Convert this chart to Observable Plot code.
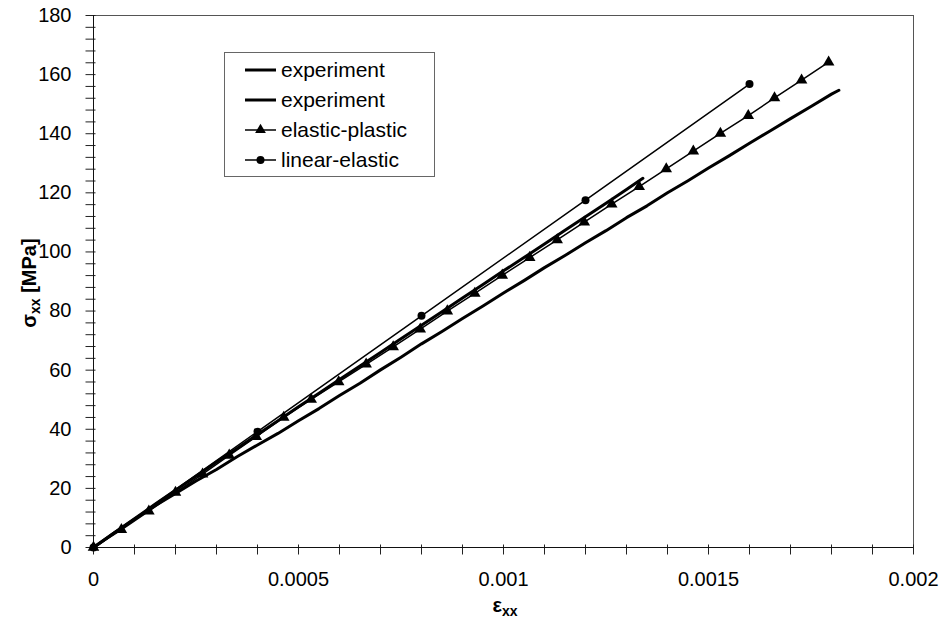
<!DOCTYPE html>
<html>
<head>
<meta charset="utf-8">
<script src="https://cdn.jsdelivr.net/npm/d3@7"></script>
<script src="https://cdn.jsdelivr.net/npm/@observablehq/plot@0.6"></script>
<style>
  html, body { margin: 0; padding: 0; background: #fff; }
  #chart { width: 946px; height: 627px; }
</style>
</head>
<body>
<div id="chart"></div>
<script>
// Measured stress–strain curves (strain εxx, stress σxx in MPa)
const exp1Strain = [0, 0.00005, 0.0001, 0.00015, 0.0002, 0.00025, 0.0003, 0.00035, 0.0004, 0.00045,
  0.0005, 0.00055, 0.0006, 0.00065, 0.0007, 0.00075, 0.0008, 0.00085, 0.0009, 0.00095,
  0.001, 0.00105, 0.0011, 0.00115, 0.0012, 0.00125, 0.0013, 0.00135, 0.0014, 0.00145,
  0.0015, 0.00155, 0.0016, 0.00165, 0.0017, 0.00175, 0.0018, 0.001818];
const exp1Stress = [0, 4.9, 9.6, 14.1, 18.3, 22.5, 26.4, 30.7, 34.7, 38.6,
  42.9, 47.0, 51.4, 55.6, 60.1, 64.4, 68.9, 73.1, 77.5, 81.7,
  86.1, 90.3, 94.7, 98.8, 103.1, 107.2, 111.6, 115.6, 120.0, 124.1,
  128.4, 132.5, 136.8, 140.9, 145.1, 149.2, 153.4, 154.7];

const exp2Strain = [0, 0.00005, 0.0001, 0.00015, 0.0002, 0.00025, 0.0003, 0.00035, 0.0004, 0.00045,
  0.0005, 0.00055, 0.0006, 0.00065, 0.0007, 0.00075, 0.0008, 0.00085, 0.0009, 0.00095,
  0.001, 0.00105, 0.0011, 0.00115, 0.0012, 0.00125, 0.0013, 0.00134];
const exp2Stress = [0, 4.9, 9.7, 14.6, 19.4, 24.1, 28.9, 33.5, 38.2, 42.9,
  47.6, 52.2, 56.8, 61.4, 66.0, 70.6, 75.2, 79.8, 84.4, 89.0,
  93.6, 98.1, 102.7, 107.3, 111.9, 116.5, 121.1, 124.9];

// Elastic-plastic model, one point per load step
const epStrain = [0, 0.000068, 0.000135, 0.000200, 0.000266, 0.000331, 0.000397, 0.000464, 0.000531, 0.000598,
  0.000665, 0.000731, 0.000797, 0.000863, 0.000930, 0.000997, 0.001064, 0.001131, 0.001197, 0.001264,
  0.001331, 0.001397, 0.001463, 0.001529, 0.001597, 0.001661, 0.001727, 0.001793];
const epStress = [0, 6.0, 12.3, 18.6, 24.8, 31.2, 37.5, 44.0, 50.1, 56.0,
  62.0, 67.9, 73.9, 80.0, 86.0, 92.1, 98.1, 104.1, 110.1, 116.2,
  122.1, 128.1, 134.1, 140.1, 146.1, 152.1, 158.1, 164.2];

// Linear-elastic model
const leStrain = [0, 0.0004, 0.0008, 0.0012, 0.0016];
const leStress = [0, 39.2, 78.4, 117.5, 156.8];

// Axis ticks
const xMajor = [0, 0.0005, 0.001, 0.0015, 0.002];
const xTickLabels = ["0", "0.0005", "0.001", "0.0015", "0.002"];
const xMinor = d3.range(0, 21).map(i => i / 10000);
const yMajor = [0, 20, 40, 60, 80, 100, 120, 140, 160, 180];
const yMinor = d3.range(0, 46).map(i => i * 4);

const legendNames = ["experiment", "experiment", "elastic-plastic", "linear-elastic"];

const toRows = (xs, ys) => xs.map((x, i) => ({strain: x, stress: ys[i]}));
const exp1 = toRows(exp1Strain, exp1Stress);
const exp2 = toRows(exp2Strain, exp2Stress);
const ep = toRows(epStrain, epStress);
const le = toRows(leStrain, leStress);

const font = "'Liberation Sans', Arial, Helvetica, sans-serif";

const chart = Plot.plot({
  width: 946,
  height: 627,
  marginLeft: 93,
  marginRight: 33,
  marginTop: 15,
  marginBottom: 80,
  style: {fontFamily: font, fontSize: "20px", background: "#fff", color: "#000"},
  x: {domain: [0, 0.002]},
  y: {domain: [0, 180]},
  marks: [
    Plot.frame({stroke: "#555", strokeWidth: 1}),
    // minor ticks crossing the axis lines
    Plot.axisX({ticks: xMinor, tickSize: 10, dy: -2.5, tickFormat: () => "", label: null, stroke: "#222"}),
    Plot.axisY({ticks: yMinor, tickSize: 10, dx: 2.5, tickFormat: () => "", label: null, stroke: "#222"}),
    // tick labels
    Plot.axisX({ticks: xMajor, tickSize: 0, tickPadding: 24, label: null,
      tickFormat: d => xTickLabels[xMajor.indexOf(d)]}),
    Plot.axisY({ticks: yMajor, tickSize: 0, tickPadding: 22, label: null, tickFormat: d => String(d)}),
    Plot.ruleY([0], {stroke: "#111"}),
    Plot.ruleX([0], {stroke: "#111"}),
    // curves
    Plot.line(exp1, {x: "strain", y: "stress", stroke: "#000", strokeWidth: 3}),
    Plot.line(exp2, {x: "strain", y: "stress", stroke: "#000", strokeWidth: 3}),
    Plot.line(ep, {x: "strain", y: "stress", stroke: "#000", strokeWidth: 1.5}),
    Plot.dot(ep, {x: "strain", y: "stress", symbol: "triangle", r: 4.3, fill: "#000", stroke: "none"}),
    Plot.line(le, {x: "strain", y: "stress", stroke: "#000", strokeWidth: 1.5}),
    Plot.dot(le, {x: "strain", y: "stress", symbol: "circle", r: 4, fill: "#000", stroke: "none"})
  ]
});

const svg = d3.select(chart);

// Axis titles with subscripts
const yTitle = svg.append("text")
  .attr("transform", "translate(36,283) rotate(-90)")
  .attr("text-anchor", "middle")
  .attr("font-family", font)
  .attr("font-size", 20)
  .attr("font-weight", "bold");
yTitle.append("tspan").text("σ");
yTitle.append("tspan").attr("font-size", 14).attr("dy", 4).text("xx");
yTitle.append("tspan").attr("dy", -4).text(" [MPa]");

const xTitle = svg.append("text")
  .attr("x", 505)
  .attr("y", 612)
  .attr("text-anchor", "middle")
  .attr("font-family", font)
  .attr("font-size", 20)
  .attr("font-weight", "bold");
xTitle.append("tspan").text("ε");
xTitle.append("tspan").attr("font-size", 14).attr("dy", 4).text("xx");

// Legend
const lg = svg.append("g").attr("font-family", font).attr("font-size", 21).attr("text-anchor", "start");
lg.append("rect").attr("x", 224.5).attr("y", 52.5).attr("width", 210).attr("height", 124)
  .attr("fill", "#fff").attr("stroke", "#666");
const rowY = [70, 100, 130, 160];
const symbol = [null, null, d3.symbolTriangle, d3.symbolCircle];
const width = [3, 3, 1.5, 1.5];
legendNames.forEach((name, i) => {
  const y = rowY[i];
  lg.append("line").attr("x1", 245).attr("x2", 276).attr("y1", y).attr("y2", y)
    .attr("stroke", "#000").attr("stroke-width", width[i]);
  if (symbol[i]) {
    lg.append("path").attr("transform", `translate(260.5,${y})`)
      .attr("d", d3.symbol(symbol[i], Math.PI * 16)()).attr("fill", "#000");
  }
  lg.append("text").attr("x", 281).attr("y", y).attr("dy", "0.35em").text(name);
});

document.getElementById("chart").appendChild(chart);
</script>
</body>
</html>
